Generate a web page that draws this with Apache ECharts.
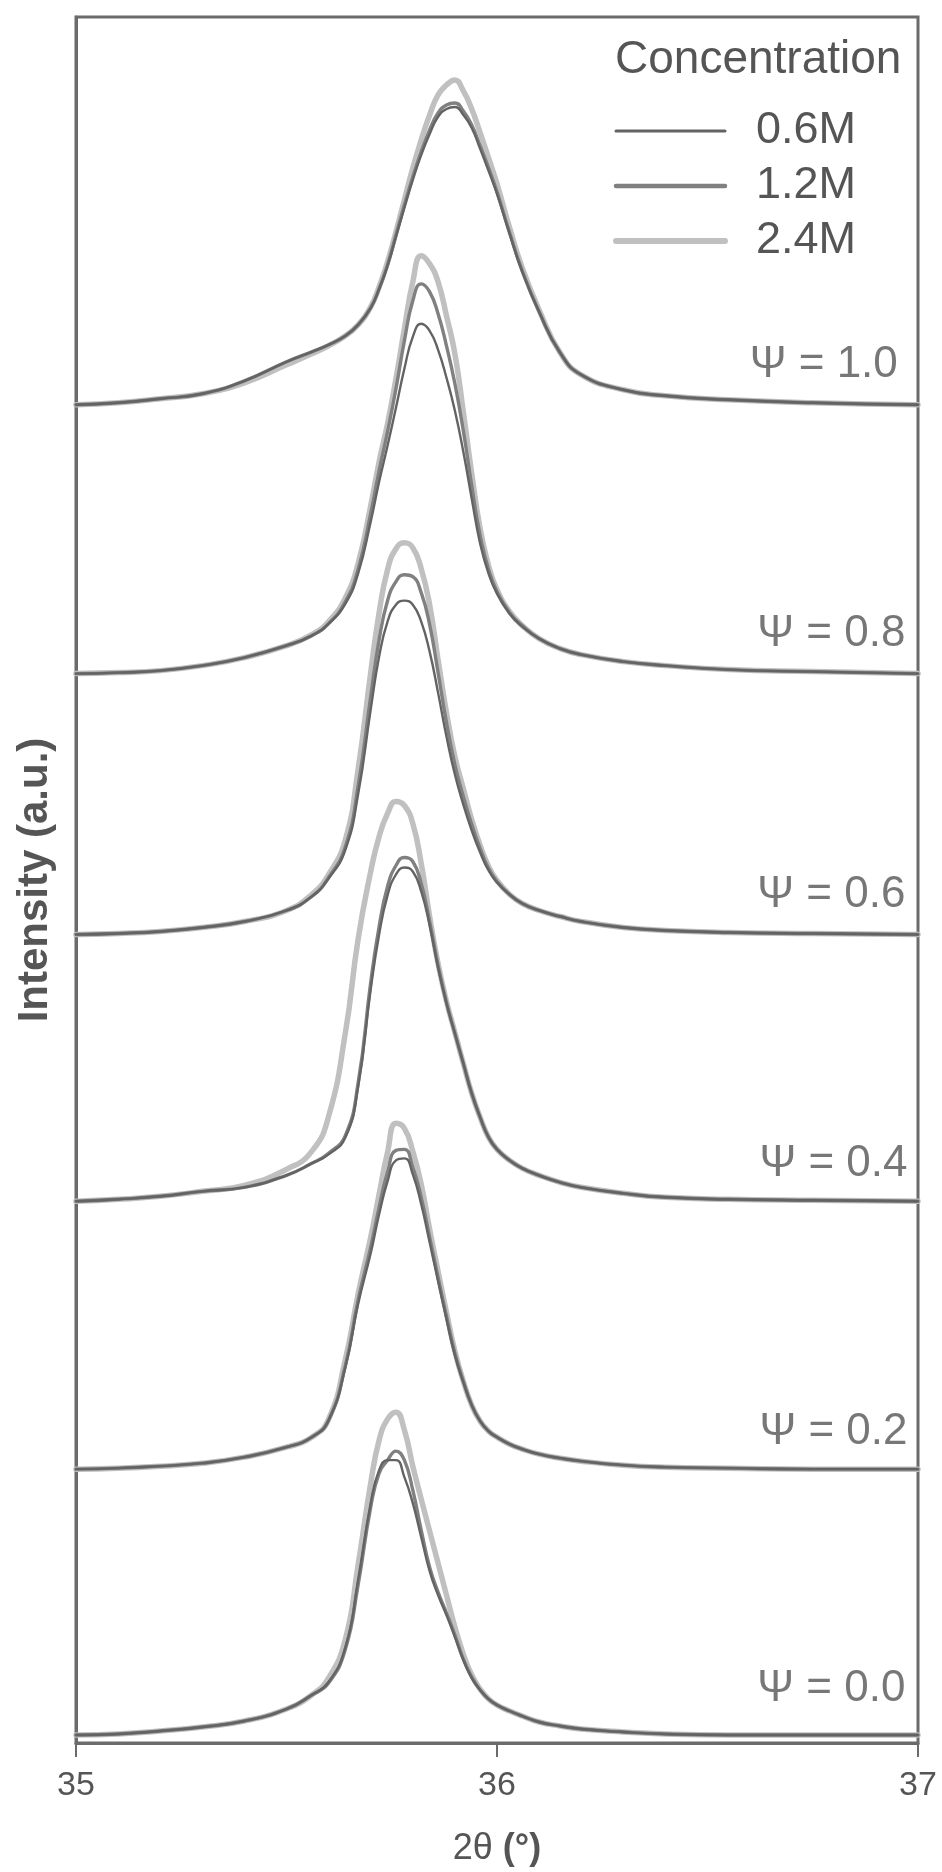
<!DOCTYPE html>
<html>
<head>
<meta charset="utf-8">
<script src="https://cdn.jsdelivr.net/npm/echarts@6/dist/echarts.min.js"></script>
<style>
html,body{margin:0;padding:0;background:#fff;}
#chart{width:942px;height:1872px;}
</style>
</head>
<body>
<div id="chart"></div>
<script>
// 2θ grid (degrees)
const theta = [35.00,35.10,35.20,35.30,35.40,35.50,35.56,35.60,35.64,35.67,35.70,35.72,35.74,35.76,35.78,35.80,35.82,35.84,35.86,35.88,35.90,35.92,35.94,35.96,35.98,36.00,36.03,36.06,36.10,36.15,36.20,36.30,36.40,36.55,36.75,37.00];
const xTicks = [35, 36, 37];
const concentrations = ['0.6M','1.2M','2.4M'];
const psiNames = ['Ψ = 0.0','Ψ = 0.2','Ψ = 0.4','Ψ = 0.6','Ψ = 0.8','Ψ = 1.0'];
// vertical offset of each pattern (a.u.)
const offsets = [8, 274, 542, 809, 1070, 1339];
// position of the Ψ label of each pattern (right end: 2θ, height: a.u.)
const labelX = [36.97, 36.975, 36.975, 36.97, 36.97, 36.952];
const labelLevels = [54, 311, 579, 849, 1110, 1379];

// intensities above each pattern's baseline (a.u.)
const psi00_06 = [0,1,4,8,14,26,40,53,88,155,232,265,275,275,258,232,198,164,140,120,98,75,57,45,36,30,24,19,13,9,6,3,1,0,0,0];
const psi00_12 = [0,1,4,8,14,26,40,52,86,150,228,262,275,284,275,245,205,168,143,122,100,76,58,45,36,30,24,19,13,9,6,3,1,0,0,0];
const psi00_24 = [0,1,4,8,14,26,40,57,96,170,252,295,316,323,305,269,236,204,172,140,108,81,60,46,36,30,24,19,13,9,6,3,1,0,0,0];

const psi02_06 = [0,1,3,6,12,22,32,49,102,165,216,255,288,309,311,295,265,227,188,150,114,87,64,48,38,32,25,20,15,11,8,4,2,1,0,0];
const psi02_12 = [0,1,3,6,12,22,32,49,104,169,222,262,297,319,320,302,272,232,192,153,116,88,64,48,38,32,25,20,15,11,8,4,2,1,0,0];
const psi02_24 = [0,1,3,6,12,22,32,50,110,175,232,275,317,346,341,318,285,240,198,157,118,88,64,48,38,32,25,20,15,11,8,4,2,1,0,0];

const psi04_06 = [0,2,5,10,14,26,38,47,64,114,212,267,306,327,334,330,310,276,234,198,168,138,108,84,64,52,41,33,26,19,14,8,4,2,1,0];
const psi04_12 = [0,2,5,10,14,26,38,48,66,118,219,275,315,336,344,340,318,280,236,199,168,138,108,84,64,52,41,33,26,19,14,8,4,2,1,0];
const psi04_24 = [0,2,5,10,16,32,50,85,169,262,330,365,388,400,396,378,338,285,238,200,169,138,108,84,64,52,41,33,26,19,14,8,4,2,1,0];

const psi06_06 = [0,1,3,7,13,24,38,56,85,140,225,278,313,330,334,330,313,283,242,198,160,130,104,82,64,52,40,31,24,18,13,7,4,2,1,0];
const psi06_12 = [0,1,3,7,13,24,38,57,88,148,238,295,334,353,360,358,342,310,262,212,170,138,110,86,66,53,40,31,24,18,13,7,4,2,1,0];
const psi06_24 = [0,1,3,7,13,24,40,60,95,165,262,322,365,386,392,387,366,330,275,222,178,146,115,89,68,54,40,31,24,18,13,7,4,2,1,0];

const psi08_06 = [0,1,3,8,16,28,38,50,70,100,152,192,228,266,305,337,350,343,324,296,263,222,175,130,100,80,60,47,35,25,19,12,8,4,2,0];
const psi08_12 = [0,1,3,8,16,28,38,50,72,104,160,203,242,285,333,373,390,382,360,328,290,243,188,138,104,82,61,48,35,25,19,12,8,4,2,0];
const psi08_24 = [0,1,3,8,16,28,39,52,76,110,168,212,250,295,345,392,418,410,392,358,320,262,200,145,108,84,62,48,35,25,19,12,8,4,2,0];

const psi10_06 = [0,2,6,11,24,43,53,60,69,80,97,116,139,168,197,225,250,271,288,296,298,290,277,256,234,211,171,133,93,52,30,15,9,5,2,0];
const psi10_12 = [0,2,6,11,24,43,53,60,69,80,97,116,140,170,200,228,253,275,292,300,302,294,280,259,237,213,172,134,93,52,30,15,9,5,2,0];
const psi10_24 = [0,2,6,11,22,40,51,59,69,80,98,118,143,173,205,237,265,290,310,320,325,314,296,272,247,221,177,137,95,52,30,15,9,5,2,0];

const patterns = [
  [psi00_06, psi00_12, psi00_24],
  [psi02_06, psi02_12, psi02_24],
  [psi04_06, psi04_12, psi04_24],
  [psi06_06, psi06_12, psi06_24],
  [psi08_06, psi08_12, psi08_24],
  [psi10_06, psi10_12, psi10_24]
];

const lineStyles = {
  '0.6M': {color: '#636363', width: 2.4},
  '1.2M': {color: '#808080', width: 3.4},
  '2.4M': {color: '#c0c0c0', width: 5.5}
};
const legendWidths = {'0.6M': 3, '1.2M': 4.5, '2.4M': 6};
const drawOrder = [2, 1, 0]; // light thick first, dark thin on top
const FONT = 'Liberation Sans, Arial, Helvetica, sans-serif';

const series = [];
drawOrder.forEach(function (ci) {
  patterns.forEach(function (grp, gi) {
    const name = concentrations[ci];
    series.push({
      name: name,
      type: 'line',
      smooth: 0.5,
      symbol: 'none',
      showSymbol: false,
      silent: true,
      z: 2 + (2 - ci),
      lineStyle: {color: lineStyles[name].color, width: lineStyles[name].width, cap: 'round', join: 'round'},
      itemStyle: {color: lineStyles[name].color},
      data: theta.map(function (t, i) { return [t, offsets[gi] + grp[ci][i]]; })
    });
  });
});

series.push({
  name: 'labels',
  type: 'scatter',
  symbolSize: 0,
  silent: true,
  data: psiNames.map(function (n, i) { return [labelX[i], labelLevels[i], n]; }),
  label: {
    show: true,
    position: 'left',
    distance: 0,
    formatter: function (p) { return p.data[2]; },
    fontFamily: FONT,
    fontSize: 44,
    color: '#555'
  }
});

const chart = echarts.init(document.getElementById('chart'));
chart.setOption({
  animation: false,
  backgroundColor: '#fff',
  title: {
    text: 'Concentration',
    left: 615,
    top: 37,
    padding: 0,
    textStyle: {fontFamily: FONT, fontSize: 46, fontWeight: 'normal', color: '#555'}
  },
  legend: {
    data: concentrations.map(function (c) {
      return {name: c, lineStyle: {width: legendWidths[c], color: lineStyles[c].color}, itemStyle: {opacity: 0}};
    }),
    orient: 'vertical',
    left: 613,
    top: 106,
    padding: 0,
    itemWidth: 109,
    itemHeight: 14,
    itemGap: 5,
    selectedMode: false,
    itemStyle: {opacity: 0},
    lineStyle: {width: 'inherit'},
    textStyle: {fontFamily: FONT, fontSize: 45, lineHeight: 50, color: '#555', padding: [0, 0, 0, 26]}
  },
  grid: {
    left: 76, right: 24, top: 17, bottom: 128,
    show: true, borderWidth: 3, borderColor: '#6b6b6b', backgroundColor: 'transparent'
  },
  xAxis: {
    type: 'value',
    min: xTicks[0], max: xTicks[xTicks.length - 1], interval: 1,
    name: '{n|2θ }{b|(°)}',
    nameLocation: 'middle',
    nameGap: 88,
    nameTextStyle: {
      rich: {
        n: {fontFamily: FONT, fontSize: 36, color: '#555'},
        b: {fontFamily: FONT, fontSize: 36, fontWeight: 'bold', color: '#555'}
      }
    },
    axisLine: {show: true, lineStyle: {color: '#6b6b6b', width: 3}},
    axisTick: {show: true, inside: false, length: 14, lineStyle: {color: '#6b6b6b', width: 2}},
    axisLabel: {fontFamily: FONT, fontSize: 34, color: '#555', margin: 26},
    splitLine: {show: false}
  },
  yAxis: {
    type: 'value',
    min: 0, max: 1727,
    name: 'Intensity (a.u.)',
    nameLocation: 'middle',
    nameGap: 20,
    nameRotate: 90,
    nameTextStyle: {fontFamily: FONT, fontSize: 42, fontWeight: 'bold', color: '#555'},
    axisLine: {show: true, lineStyle: {color: '#6b6b6b', width: 3}},
    axisTick: {show: false},
    axisLabel: {show: false},
    splitLine: {show: false}
  },
  series: series
});
</script>
</body>
</html>
